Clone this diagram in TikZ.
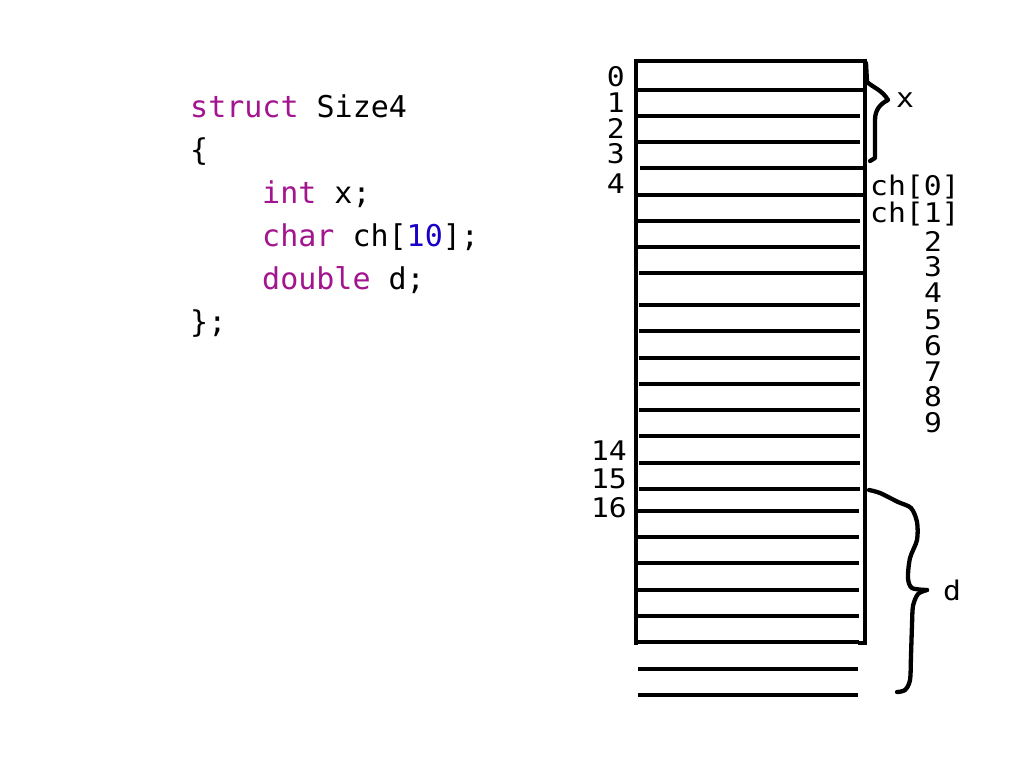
\documentclass[tikz,border=0pt]{standalone}
\usepackage{fontspec}
\newfontfamily\codefont{DejaVu Sans Mono}
\newfontfamily\lblfont[FakeStretch=1.1]{DejaVu Sans Mono}
\definecolor{kw}{RGB}{163,21,143}
\definecolor{num}{RGB}{25,0,200}
\begin{document}
\begin{tikzpicture}[x=1pt,y=-1pt,
  code/.style={anchor=base west, inner sep=0pt, font=\codefont\fontsize{30}{36}\selectfont},
  lbl/.style={inner sep=0pt, font=\lblfont\fontsize{27}{30}\selectfont},
  cell/.style={line width=4.3pt},
  frame/.style={line width=4.3pt, line cap=rect},
  brace/.style={line width=4.3pt, line cap=round, line join=round}]
\useasboundingbox[fill=white] (0,0) rectangle (1024,768);

% code
\node[code] (l1) at (190,117) {\textcolor{kw}{struct} Size4};
\node[code] (l2) at (190,160) {\{};
\node[code] (l3) at (262,203) {\textcolor{kw}{int} x;};
\node[code] (l4) at (262,246) {\textcolor{kw}{char} ch[\textcolor{num}{10}];};
\node[code] (l5) at (262,289) {\textcolor{kw}{double} d;};
\node[code] (l6) at (190,332) {\};};

% frame
\draw[frame] (636,643) -- (636,61) -- (865,61) -- (865,643) -- (860,643);

% cells
\foreach \y/\a/\b in {90/638/866,116/638/860,142/638/860,168/640/865,195/638/865,
  221/637/860,247/637/860,273/639/865,305/639/860,331/639/860,358/639/860,384/639/860,
  410/639/860,436/639/860,463/639/860,489/639/860,511/638/859,537/638/859,563/638/859,
  590/638/859,616/638/859,642/638/859,669/638/858,695/638/858}
  \draw[cell] (\a,\y) -- (\b,\y);

% left offsets
\node[lbl, anchor=base east] (o0) at (625,86) {0};
\node[lbl, anchor=base east] (o1) at (625,112) {1};
\node[lbl, anchor=base east] (o2) at (625,138) {2};
\node[lbl, anchor=base east] (o3) at (625,163) {3};
\node[lbl, anchor=base east] (o4) at (625,193) {4};
\node[lbl, anchor=base east] (o14) at (627,460) {14};
\node[lbl, anchor=base east] (o15) at (627,488) {15};
\node[lbl, anchor=base east] (o16) at (627,517) {16};

% right labels
\node[lbl, anchor=base west] (c0) at (870,195) {ch[0]};
\node[lbl, anchor=base west] (c1) at (870,222) {ch[1]};
\foreach \n/\y in {2/251,3/276,4/302,5/329,6/355,7/381,8/406,9/432}
  \node[lbl, anchor=base] (c\n) at (933,\y) {\n};

% braces
\draw[brace] (866,63) -- (867,82) .. controls (874,88) and (882,90) .. (888,100)
  .. controls (880,104) and (875,110) .. (875,120) -- (875,158) -- (870,161);
\node[lbl, anchor=base] (xl) at (905,107) {x};

\draw[brace] plot[smooth, tension=0.5] coordinates {(869,490) (880,493) (898,502) (911,508) (917,522)
  (917,540) (910,558) (908,578) (912,588) (927,590)};
\draw[brace] plot[smooth, tension=0.5] coordinates {(927,590) (918,594) (913,606) (912,625)
  (911,655) (910,680) (905,690) (897,692)};
\node[lbl, anchor=base] (dl) at (952,600) {d};
\end{tikzpicture}
\end{document}
